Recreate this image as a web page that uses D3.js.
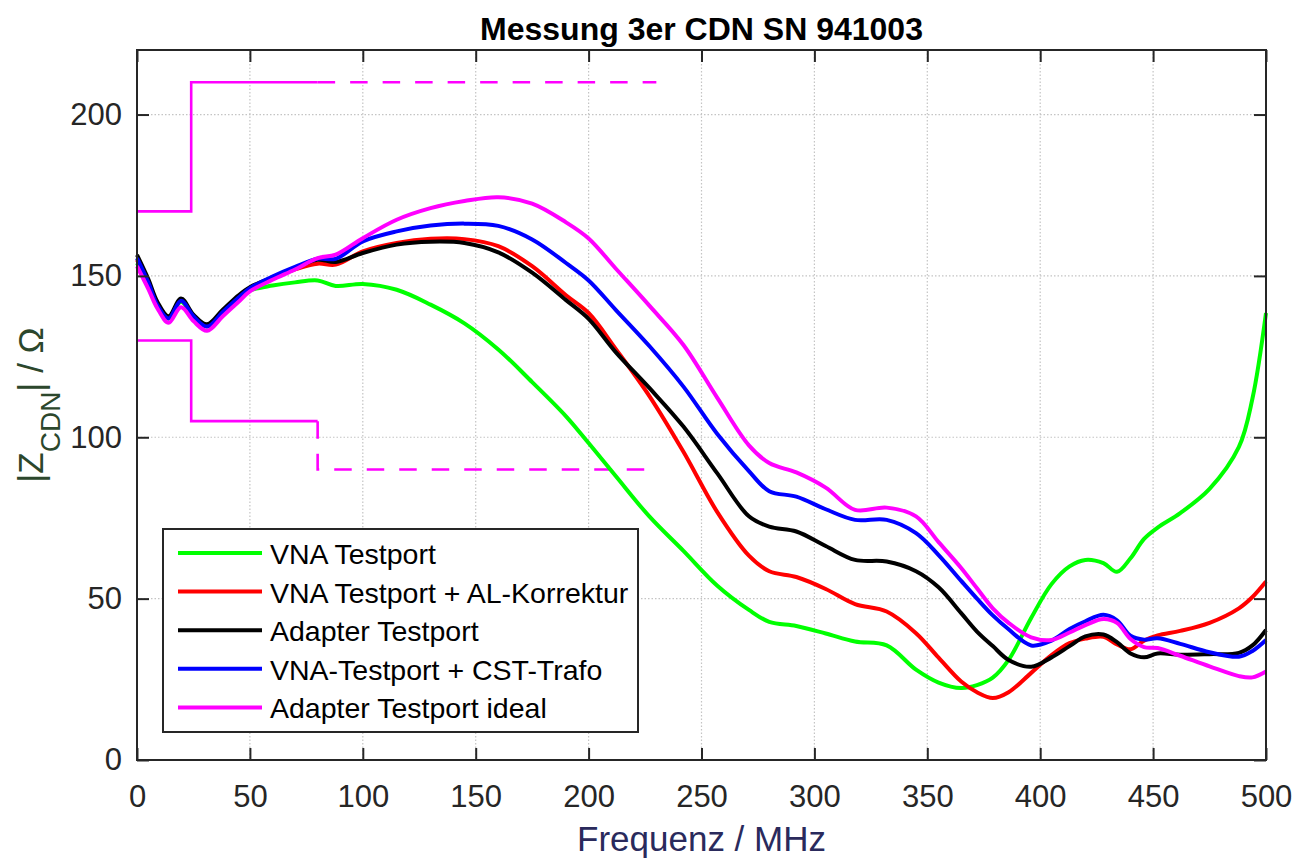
<!DOCTYPE html>
<html>
<head>
<meta charset="utf-8">
<script src="https://cdn.jsdelivr.net/npm/d3@7"></script>
<style>
  body { margin: 0; background: #fff; }
  svg { font-family: "Liberation Sans", Arial, Helvetica, sans-serif; }
</style>
</head>
<body>
<svg id="chart" width="1297" height="864"></svg>
<script>
// frequency grid, MHz
const freq = [0, 5, 9, 14, 19.5, 25, 31, 38, 45, 50,
  60, 70, 80, 88, 100, 115, 130, 145, 160, 175,
  190, 200, 212, 227, 242, 257, 271, 280, 292, 305,
  318, 332, 345, 355, 365, 372, 379, 386, 396, 405,
  413, 420, 428, 434, 440, 446, 452, 462, 475, 488,
  494, 500];

// |Z| values in Ohm
const vnaTestport = [154, 147.5, 141, 136.8, 142, 137.3, 134.3, 139, 143.3, 145.5,
  147, 148, 148.6, 146.9, 147.5, 145.7, 141.1, 135.3, 127.2, 117.1,
  106.5, 98.2, 88, 75.4, 64.8, 54, 46.5, 42.8, 41.5, 39.2,
  36.7, 35.5, 28, 24, 22.3, 23.2, 25.5, 31, 44, 54.5,
  60, 62, 61, 58.3, 62.5, 68.5, 72, 76.5, 84, 97,
  112, 138.5];
const vnaAlKorrektur = [155, 148, 141.5, 137, 142.5, 137.5, 134.5, 139, 143.5, 146.3,
  149.3, 152, 153.8, 153.5, 157.6, 160.2, 161.5, 161.4, 159.2, 153,
  144, 138.5, 127.4, 112.7, 95.5, 76.8, 63.3, 58.5, 56.7, 53,
  48.3, 46, 39.3, 31.7, 24.3, 21, 19.2, 21, 27, 32.5,
  36.2, 37.6, 38.2, 35.8, 34.3, 37, 38.6, 40, 42.5, 47,
  50.5, 55.3];
const adapterTestport = [156.5, 149, 142, 137.5, 143, 138, 135, 139.5, 144, 146.5,
  149.5, 152.5, 155, 154.3, 157.1, 159.7, 160.6, 160.2, 157.3, 151,
  142.5, 136.7, 126.4, 115.2, 103.3, 88.8, 75.5, 72.3, 70.8, 66.3,
  62, 61.5, 58.5, 53.5, 45.5, 39.8, 35.3, 31, 28.9, 31.8,
  35.3, 38.3, 38.9, 36.5, 33, 31.8, 33, 32.6, 32.8, 33.2,
  35.5, 40.3];
const vnaCstTrafo = [155.5, 148, 141, 136.8, 142.3, 137.5, 134.3, 138.8, 143.3, 146.2,
  149.8, 152.8, 155.3, 155.3, 160.7, 163.8, 165.6, 166.2, 165.5, 161.3,
  154, 148.6, 139.5, 128.2, 115.7, 101, 89.5, 83.3, 81.6, 77.7,
  74.4, 74.4, 70.3, 63.5, 55.5, 50, 44.8, 40.5, 35.5, 37,
  40.6, 43, 45, 43.3, 38.5, 37.3, 37.7, 36, 33.4, 32,
  33.8, 37.2];
const adapterIdeal = [153, 146, 140, 135.5, 140.3, 136, 133, 137.5, 142, 145.2,
  148.8, 152, 155.5, 156.6, 161.7, 167.4, 171, 173.2, 174.4, 172.4,
  166.6, 161.6, 152.3, 140.7, 128.6, 112.2, 97.5, 92, 89.1, 84.4,
  77.5, 78.2, 75.5, 67.5, 59.5, 53.2, 47, 42.5, 38, 37.2,
  39.5, 41.8, 43.7, 42.5, 37.5, 35, 34.7, 32.3, 29, 26,
  25.6, 27.4];

const seriesNames = ['VNA Testport', 'VNA Testport + AL-Korrektur', 'Adapter Testport',
  'VNA-Testport + CST-Trafo', 'Adapter Testport ideal'];
const seriesColors = ['#00ff00', '#ff0000', '#000000', '#0000ff', '#ff00ff'];
const seriesValues = [vnaTestport, vnaAlKorrektur, adapterTestport, vnaCstTrafo, adapterIdeal];

// tolerance mask (magenta), [MHz, Ohm]
const upperSolid = [[0, 170], [24, 170], [24, 210], [80, 210]];
const upperDashed = [[80, 210], [230, 210]];
const lowerSolid = [[0, 130], [24, 130], [24, 105], [80, 105]];
const lowerDashed = [[80, 105], [80, 90], [225, 90]];

const xTicks = [0, 50, 100, 150, 200, 250, 300, 350, 400, 450, 500];
const yTicks = [0, 50, 100, 150, 200];

const margin = { left: 137, right: 31, top: 50, bottom: 104 };
const width = 1297 - margin.left - margin.right;
const height = 864 - margin.top - margin.bottom;
const axisColor = '#262626';

const svg = d3.select('#chart');
const g = svg.append('g').attr('transform', `translate(${margin.left},${margin.top})`);

const x = d3.scaleLinear().domain([0, 500]).range([0, width]);
const y = d3.scaleLinear().domain([0, 220]).range([height, 0]);

// grid
g.append('g')
  .selectAll('line')
  .data(xTicks.slice(1, -1))
  .join('line')
    .attr('x1', d => x(d)).attr('x2', d => x(d))
    .attr('y1', 0).attr('y2', height)
    .attr('stroke', '#c4c4c4')
    .attr('stroke-width', 1.2)
    .attr('stroke-dasharray', '1.5,2');
g.append('g')
  .selectAll('line')
  .data(yTicks.slice(1))
  .join('line')
    .attr('x1', 0).attr('x2', width)
    .attr('y1', d => y(d)).attr('y2', d => y(d))
    .attr('stroke', '#c4c4c4')
    .attr('stroke-width', 1.2)
    .attr('stroke-dasharray', '1.5,2');

// limit lines
const maskLine = d3.line().x(d => x(d[0])).y(d => y(d[1]));
[upperSolid, lowerSolid].forEach((pts) => {
  g.append('path').attr('d', maskLine(pts))
    .attr('fill', 'none').attr('stroke', '#ff00ff').attr('stroke-width', 2.6);
});
[upperDashed, lowerDashed].forEach((pts) => {
  g.append('path').attr('d', maskLine(pts))
    .attr('fill', 'none').attr('stroke', '#ff00ff').attr('stroke-width', 2.6)
    .attr('stroke-dasharray', '17.5,15');
});

// curves
const curve = d3.line()
  .x((d, i) => x(freq[i]))
  .y(d => y(d))
  .curve(d3.curveCatmullRom.alpha(0.5));

g.append('g')
  .selectAll('path')
  .data(seriesValues)
  .join('path')
    .attr('d', d => curve(d))
    .attr('fill', 'none')
    .attr('stroke', (d, i) => seriesColors[i])
    .attr('stroke-width', 4)
    .attr('stroke-linejoin', 'round');

// axes, ticks pointing inward on all four sides
const tickLen = 12;
const styleAxis = (sel) => {
  sel.select('.domain').remove();
  sel.selectAll('.tick line').attr('stroke', axisColor).attr('stroke-width', 2);
  sel.selectAll('.tick text')
    .attr('fill', axisColor)
    .style('font-size', '31px')
    .style('font-family', '"Liberation Sans", Arial, Helvetica, sans-serif');
};

g.append('g')
  .attr('transform', `translate(0,${height})`)
  .call(d3.axisBottom(x).tickValues(xTicks).tickSize(-tickLen).tickPadding(25))
  .call(styleAxis);
g.append('g')
  .call(d3.axisTop(x).tickValues(xTicks).tickSize(-tickLen).tickFormat(''))
  .call(styleAxis);
g.append('g')
  .call(d3.axisLeft(y).tickValues(yTicks).tickSize(-tickLen).tickPadding(15))
  .call(styleAxis);
g.append('g')
  .attr('transform', `translate(${width},0)`)
  .call(d3.axisRight(y).tickValues(yTicks).tickSize(-tickLen).tickFormat(''))
  .call(styleAxis);

g.append('rect')
  .attr('width', width).attr('height', height)
  .attr('fill', 'none')
  .attr('stroke', axisColor)
  .attr('stroke-width', 2);

// title and labels
svg.append('text')
  .attr('x', margin.left + width / 2)
  .attr('y', 40)
  .attr('text-anchor', 'middle')
  .attr('font-size', 32)
  .attr('font-weight', 'bold')
  .attr('fill', '#000')
  .text('Messung 3er CDN SN 941003');

svg.append('text')
  .attr('x', margin.left + width / 2)
  .attr('y', 851)
  .attr('text-anchor', 'middle')
  .attr('font-size', 35)
  .attr('fill', '#2a2a5c')
  .text('Frequenz / MHz');

const yLabel = svg.append('text')
  .attr('transform', `translate(43,${margin.top + height / 2}) rotate(-90)`)
  .attr('text-anchor', 'middle')
  .attr('font-size', 35)
  .attr('fill', '#2c472c');
yLabel.append('tspan').text('|Z');
yLabel.append('tspan').attr('font-size', 28).attr('dy', 17).text('CDN');
yLabel.append('tspan').attr('dy', -17).text('| / Ω');

// legend
const legend = svg.append('g').attr('transform', 'translate(163,529)');
legend.append('rect')
  .attr('width', 475).attr('height', 203)
  .attr('fill', '#fff')
  .attr('stroke', axisColor)
  .attr('stroke-width', 2);
const rowY = i => 24 + i * 38.6;
const items = legend.selectAll('g.item')
  .data(seriesNames)
  .join('g')
    .attr('class', 'item')
    .attr('transform', (d, i) => `translate(0,${rowY(i)})`);
items.append('line')
  .attr('x1', 15).attr('x2', 99)
  .attr('stroke', (d, i) => seriesColors[i])
  .attr('stroke-width', 4);
items.append('text')
  .attr('x', 107)
  .attr('y', 11)
  .attr('font-size', 28.5)
  .attr('fill', '#000')
  .text(d => d);
</script>
</body>
</html>
